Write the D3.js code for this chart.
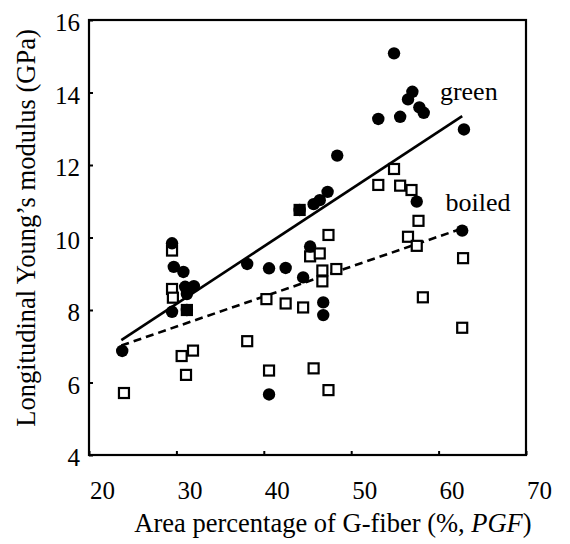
<!DOCTYPE html>
<html>
<head>
<script src="https://d3js.org/d3.v7.min.js"></script>
<style>
  body { margin: 0; background: #fff; }
  text { font-family: "Liberation Serif", "Times New Roman", serif; fill: #000; }
  .tick text { font-size: 25px; }
  .axis-title { font-size: 26.5px; }
  .series-label { font-size: 26px; }
</style>
</head>
<body>
<svg width="570" height="544"></svg>
<script>
// G-fiber area percentage (x) and Young's modulus (y)
var greenX = [23.8, 29.5, 29.7, 30.8, 31.0, 32.0, 31.2, 29.5, 31.2, 38.1, 40.6, 40.6, 42.5, 44.1, 44.5, 45.3,
              45.7, 46.4, 47.3, 46.8, 46.8, 48.4, 53.1, 54.9, 55.6, 56.5, 57.0, 57.8, 58.3, 57.5, 62.7, 62.9];
var greenY = [6.87, 9.84, 9.19, 9.05, 8.64, 8.66, 8.44, 7.95, 8.00, 9.27, 9.15, 5.67, 9.16, 10.76, 8.90, 9.75,
              10.92, 11.03, 11.26, 8.21, 7.86, 12.26, 13.27, 15.08, 13.33, 13.81, 14.02, 13.59, 13.44, 10.99, 10.19, 12.98];
var boiledX = [24.0, 29.5, 29.5, 29.6, 31.2, 30.6, 31.9, 31.1, 38.1, 40.3, 40.6, 42.5, 44.1, 44.5, 45.3, 46.4,
               45.7, 46.7, 48.3, 46.7, 47.4, 47.4, 53.1, 54.9, 55.6, 56.9, 57.7, 56.5, 57.5, 58.2, 62.8, 62.7];
var boiledY = [5.71, 9.64, 8.58, 8.34, 8.00, 6.73, 6.88, 6.21, 7.14, 8.30, 6.33, 8.18, 10.76, 8.07, 9.48, 9.56,
               6.39, 9.09, 9.13, 8.79, 10.07, 5.79, 11.45, 11.89, 11.43, 11.31, 10.46, 10.02, 9.77, 8.35, 9.43, 7.51];
// regression line end points
var fitX = [23.7, 62.7];
var greenFit = [7.17, 13.35];
var boiledFit = [7.02, 10.25];
var xTicks = [20, 30, 40, 50, 60, 70];
var yTicks = [4, 6, 8, 10, 12, 14, 16];

var svg = d3.select("svg"),
    margin = {top: 20, right: 44, bottom: 89, left: 89},
    width = +svg.attr("width") - margin.left - margin.right,
    height = +svg.attr("height") - margin.top - margin.bottom;

var x = d3.scaleLinear().domain([20, 70]).range([0, width]);
var y = d3.scaleLinear().domain([4, 16]).range([height, 0]);

var g = svg.append("g").attr("transform", "translate(" + margin.left + "," + margin.top + ")");

// axes with inward ticks
var xAxis = g.append("g")
    .attr("transform", "translate(0," + height + ")")
    .call(d3.axisBottom(x).tickValues(xTicks).tickSizeInner(-4).tickSizeOuter(0).tickPadding(0));
xAxis.selectAll(".tick text").attr("dy", null).attr("y", 44).attr("dx", 13);

var yAxis = g.append("g")
    .call(d3.axisLeft(y).tickValues(yTicks).tickSizeInner(-4).tickSizeOuter(0).tickPadding(0));
yAxis.selectAll(".tick text").attr("x", -9).attr("dy", "0.42em");

[xAxis, yAxis].forEach(function(a) {
    a.attr("font-family", "Liberation Serif, Times New Roman, serif").attr("font-size", 25);
});
g.selectAll(".domain").remove();
g.selectAll(".tick line").attr("stroke", "#000").attr("stroke-width", 2);

g.append("rect")
    .attr("width", width)
    .attr("height", height)
    .attr("fill", "none")
    .attr("stroke", "#000")
    .attr("stroke-width", 2.2);

// fit lines
var line = d3.line().x(d => x(d[0])).y(d => y(d[1]));
g.append("path")
    .datum(d3.zip(fitX, greenFit))
    .attr("d", line)
    .attr("fill", "none")
    .attr("stroke", "#000")
    .attr("stroke-width", 2.6);
g.append("path")
    .datum(d3.zip(fitX, boiledFit))
    .attr("d", line)
    .attr("fill", "none")
    .attr("stroke", "#000")
    .attr("stroke-width", 2.6)
    .attr("stroke-dasharray", "8,5");

// boiled: open squares, green: filled circles (drawn on top)
var s = 10;
g.selectAll(".sq")
    .data(d3.zip(boiledX, boiledY))
    .enter().append("rect")
    .attr("class", "sq")
    .attr("x", d => x(d[0]) - s / 2)
    .attr("y", d => y(d[1]) - s / 2)
    .attr("width", s)
    .attr("height", s)
    .attr("fill", "#fff")
    .attr("stroke", "#000")
    .attr("stroke-width", 2.2);

g.selectAll(".dot")
    .data(d3.zip(greenX, greenY))
    .enter().append("circle")
    .attr("class", "dot")
    .attr("cx", d => x(d[0]))
    .attr("cy", d => y(d[1]))
    .attr("r", 6.2)
    .attr("fill", "#000");

g.append("text").attr("class", "series-label")
    .attr("x", x(60.15)).attr("y", y(13.79)).text("green");
g.append("text").attr("class", "series-label")
    .attr("x", x(60.8)).attr("y", y(10.73)).text("boiled");

// axis titles
var xt = g.append("text").attr("class", "axis-title")
    .attr("x", 244).attr("y", height + 77)
    .attr("text-anchor", "middle");
xt.append("tspan").text("Area percentage of G-fiber (%, ");
xt.append("tspan").attr("font-style", "italic").text("PGF");
xt.append("tspan").text(")");

g.append("text").attr("class", "axis-title")
    .attr("transform", "rotate(-90)")
    .attr("x", -208).attr("y", -54)
    .attr("text-anchor", "middle")
    .text("Longitudinal Young\u2019s modulus (GPa)");
</script>
</body>
</html>
